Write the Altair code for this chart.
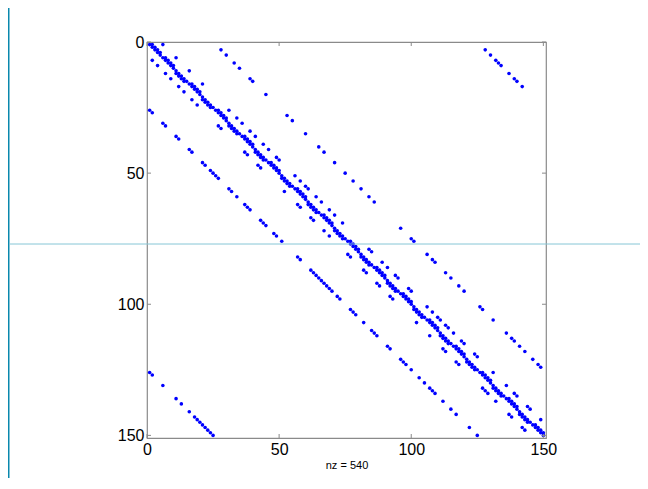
import altair as alt
import pandas as pd

# ---- data (row, column are 1-based matrix indices) ----
n_size = 150
diag_rows = list(range(1, 151))
sup_rows = [1, 2, 3, 4, 6, 7, 8, 9, 16, 17, 18, 19, 26, 27, 28, 29, 36, 37, 38, 39, 46, 47, 48, 49,
            56, 57, 58, 59, 66, 67, 68, 69, 76, 77, 78, 79, 86, 87, 88, 89, 96, 97, 98, 99,
            106, 107, 108, 109, 116, 117, 118, 119, 126, 127, 128, 129, 136, 137, 138, 139,
            146, 147, 148, 149]
sub_rows = [12, 13, 14, 15, 22, 23, 24, 25, 32, 33, 34, 35, 42, 43, 44, 45, 52, 53, 54, 55,
            62, 63, 64, 65, 72, 73, 74, 75, 82, 83, 84, 85, 92, 93, 94, 95, 102, 103, 104, 105,
            112, 113, 114, 115, 122, 123, 124, 125, 132, 133, 134, 135, 142, 143, 144, 145]
p5_rows = [1, 6, 11, 16, 26, 29, 31, 34, 36, 39, 41, 44, 45, 51, 53, 55, 56, 59, 61, 64, 66, 69,
           79, 80, 84, 86, 89, 90, 94, 95, 101, 103, 105, 106, 108, 109, 111, 114, 115, 119, 120,
           126, 131, 134, 135, 139, 140, 144]
m5_rows = [7, 9, 12, 14, 17, 19, 22, 24, 32, 33, 42, 43, 47, 48, 57, 62, 63, 67, 68, 72, 74, 81,
           82, 87, 88, 92, 93, 97, 98, 107, 112, 117, 118, 122, 123, 132, 133, 134, 137, 142, 143,
           147, 148]
p25_rows = [3, 5, 8, 10, 14, 15, 20, 28, 30, 35, 40, 42, 46, 50, 53, 56, 59, 61, 71, 75, 76, 81,
            83, 84, 88, 90, 93, 95, 101, 102, 106, 111, 113, 114, 116, 118, 121, 123, 124]
m25_rows = [26, 27, 31, 32, 36, 37, 41, 42, 46, 47, 49, 50, 51, 52, 56, 57, 59, 62, 63, 64, 68,
            69, 70, 73, 74, 76, 82, 83, 87, 88, 89, 90, 91, 92, 93, 94, 95, 97, 98, 102, 103, 104,
            107, 110, 111, 112, 116, 117, 121, 122, 123, 125, 128, 130, 132, 133, 134, 137, 140,
            142, 147, 150]
p125_rows = [3, 5, 7, 8, 9, 12, 14, 15, 17]
m125_rows = [126, 127, 131, 136, 138, 141, 143, 144, 145, 146, 147, 148, 149, 150]

band_rows = [diag_rows, sup_rows, sub_rows, p5_rows, m5_rows, p25_rows, m25_rows, p125_rows, m125_rows]
band_offsets = [0, 1, -1, 5, -5, 25, -25, 125, -125]

tick_values = [0, 50, 100, 150]
x_title = "nz = 540"

rows, cols = [], []
for rlist, off in zip(band_rows, band_offsets):
    for r in rlist:
        rows.append(r)
        cols.append(r + off)
df = pd.DataFrame({"row": rows, "col": cols})

# ---- layout ----
W, H = 399, 396
axis_color = "#8a8a8a"
font = "Liberation Sans"

xs = alt.Scale(domain=[0, n_size + 1], nice=False, zero=False)
ys = alt.Scale(domain=[0, n_size + 1], nice=False, zero=False, reverse=True)

ax_x = alt.Axis(values=tick_values, title=x_title, grid=False, ticks=False, domain=False,
                labelFont=font, labelFontSize=16, labelColor="black", labelPadding=3,
                titleFont=font, titleFontSize=11, titleFontWeight="normal",
                titleColor="black", titlePadding=2, labelFlush=False)
ax_y = alt.Axis(values=tick_values, title=None, grid=False, ticks=False, domain=False,
                labelFont=font, labelFontSize=16, labelColor="black", labelPadding=3,
                labelFlush=False)

points = alt.Chart(df).mark_circle(size=13, color="#0000ff", opacity=1).encode(
    x=alt.X("col:Q", scale=xs, axis=ax_x),
    y=alt.Y("row:Q", scale=ys, axis=ax_y),
)

tdf = pd.DataFrame({"col": tick_values, "row": tick_values})
tick_b = alt.Chart(tdf).mark_rule(color=axis_color, strokeWidth=1).encode(
    x=alt.X("col:Q", scale=xs, axis=ax_x), y=alt.value(H), y2=alt.value(H - 4))
tick_t = alt.Chart(tdf).mark_rule(color=axis_color, strokeWidth=1).encode(
    x=alt.X("col:Q", scale=xs, axis=ax_x), y=alt.value(0), y2=alt.value(4))
tick_l = alt.Chart(tdf).mark_rule(color=axis_color, strokeWidth=1).encode(
    y=alt.Y("row:Q", scale=ys, axis=ax_y), x=alt.value(0), x2=alt.value(4))
tick_r = alt.Chart(tdf).mark_rule(color=axis_color, strokeWidth=1).encode(
    y=alt.Y("row:Q", scale=ys, axis=ax_y), x=alt.value(W), x2=alt.value(W - 4))

one = pd.DataFrame({"a": [0]})
slide_line = alt.Chart(one).mark_rule(color="#86c6d6", strokeWidth=1).encode(
    x=alt.value(-137), x2=alt.value(W + 110), y=alt.value(202))
left_strip = alt.Chart(one).mark_rect(color="#0a88ad").encode(
    x=alt.value(-139), x2=alt.value(-137.5), y=alt.value(-34), y2=alt.value(H + 40))

chart = alt.layer(points, tick_b, tick_t, tick_l, tick_r, left_strip, slide_line).properties(
    width=W, height=H,
    autosize=alt.AutoSizeParams(type="none"),
    padding={"left": 139, "top": 34, "right": 94, "bottom": 40},
).configure_view(stroke=axis_color, strokeWidth=1.2)

chart.save("out.html", embed_options={"renderer": "svg", "actions": False})
